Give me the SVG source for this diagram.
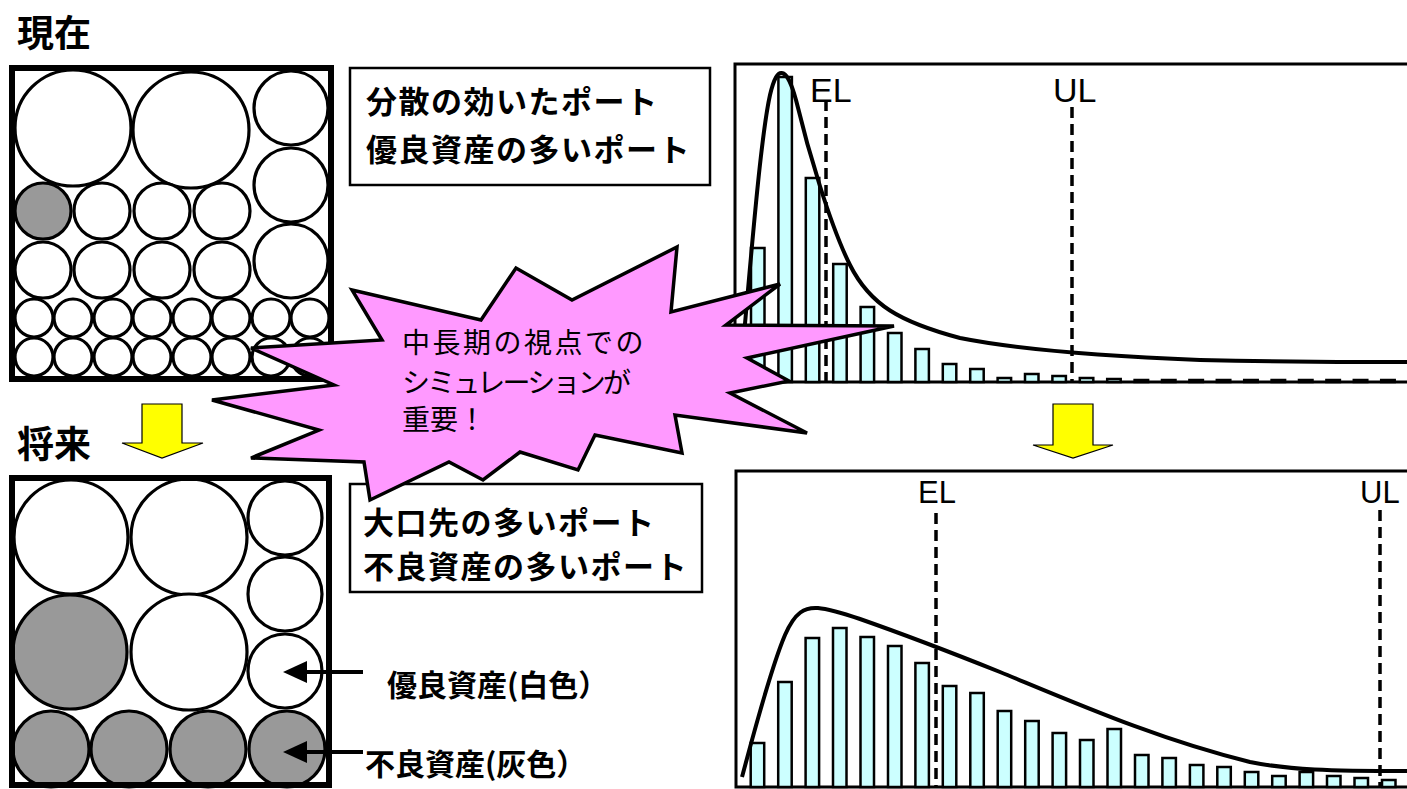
<svg xmlns="http://www.w3.org/2000/svg" width="1407" height="789" viewBox="0 0 1407 789">
<style>
.c{fill:#fff;stroke:#000;stroke-width:3.2}
.g{fill:#999;stroke:#000;stroke-width:3.2}
.frame{fill:none;stroke:#000;stroke-width:6}
.hbox{fill:#fff;stroke:#000;stroke-width:3}
.bar{fill:#ccffff;stroke:#000;stroke-width:2.5}
.dash{stroke:#000;stroke-width:3.5;stroke-dasharray:11 6;fill:none}
.curve{fill:none;stroke:#000;stroke-width:4}
.tbox{fill:#fff;stroke:#000;stroke-width:2.5}
.jp{font-family:"Noto Sans CJK JP","Noto Sans CJK SC",sans-serif;fill:#000}
.b{font-weight:bold}
.lat{font-family:"Liberation Sans",Arial,sans-serif;fill:#000}
.yarrow{fill:#ffff00;stroke:#000;stroke-width:1.2}
.ptr{stroke:#000;stroke-width:4}
</style>

<g id="title-now"><text class="jp b" x="17" y="47" font-size="37">現在</text></g>
<g id="title-future"><text class="jp b" x="17" y="458" font-size="37">将来</text></g>

<g id="portfolio-now">
<circle class="c" cx="73" cy="128" r="58"/>
<circle class="c" cx="191" cy="130" r="58"/>
<circle class="c" cx="291" cy="108" r="37"/>
<circle class="c" cx="291" cy="185" r="37"/>
<circle class="c" cx="291" cy="261" r="37"/>
<circle class="g" cx="43" cy="211" r="28"/>
<circle class="c" cx="102" cy="211" r="28"/>
<circle class="c" cx="162" cy="211" r="28"/>
<circle class="c" cx="222" cy="211" r="28"/>
<circle class="c" cx="43" cy="270" r="28"/>
<circle class="c" cx="102" cy="270" r="28"/>
<circle class="c" cx="162" cy="270" r="28"/>
<circle class="c" cx="222" cy="270" r="28"/>
<circle class="c" cx="34" cy="318" r="19"/>
<circle class="c" cx="73" cy="318" r="19"/>
<circle class="c" cx="113" cy="318" r="19"/>
<circle class="c" cx="152" cy="318" r="19"/>
<circle class="c" cx="192" cy="318" r="19"/>
<circle class="c" cx="231" cy="318" r="19"/>
<circle class="c" cx="271" cy="318" r="19"/>
<circle class="c" cx="310" cy="318" r="19"/>
<circle class="c" cx="34" cy="357" r="19"/>
<circle class="c" cx="73" cy="357" r="19"/>
<circle class="c" cx="113" cy="357" r="19"/>
<circle class="c" cx="152" cy="357" r="19"/>
<circle class="c" cx="192" cy="357" r="19"/>
<circle class="c" cx="231" cy="357" r="19"/>
<circle class="c" cx="271" cy="357" r="19"/>
<circle class="c" cx="310" cy="357" r="19"/>
<rect class="frame" x="12" y="68" width="319" height="311"/>
</g>

<g id="portfolio-future">
<circle class="c" cx="71" cy="537" r="57"/>
<circle class="c" cx="189" cy="537" r="58"/>
<circle class="c" cx="285" cy="518" r="37"/>
<circle class="c" cx="285" cy="594" r="37"/>
<circle class="c" cx="285" cy="671" r="37"/>
<circle class="g" cx="70" cy="652" r="57"/>
<circle class="c" cx="189" cy="652" r="58"/>
<circle class="g" cx="51" cy="749" r="38"/>
<circle class="g" cx="129" cy="749" r="38"/>
<circle class="g" cx="208" cy="749" r="38"/>
<circle class="g" cx="287" cy="749" r="38"/>
<rect class="frame" x="12" y="478" width="317" height="307"/>
</g>

<g id="textbox-now">
<rect class="tbox" x="350" y="68" width="360" height="117"/>
<text class="jp b" x="366" y="113" font-size="31" letter-spacing="1.5">分散の効いたポート</text>
<text class="jp b" x="366" y="161" font-size="31" letter-spacing="1.5">優良資産の多いポート</text>
</g>

<g id="textbox-future">
<rect class="tbox" x="350" y="484" width="352" height="108"/>
<text class="jp b" x="363" y="534" font-size="31" letter-spacing="1.5">大口先の多いポート</text>
<text class="jp b" x="363" y="578" font-size="31" letter-spacing="1.5">不良資産の多いポート</text>
</g>

<g id="hist-now">
<rect class="hbox" x="735" y="64" width="700" height="318"/>
<rect class="bar" x="751" y="248" width="13.5" height="134"/>
<rect class="bar" x="778.4" y="77" width="13.5" height="305"/>
<rect class="bar" x="805.8" y="178" width="13.5" height="204"/>
<rect class="bar" x="833.2" y="264" width="13.5" height="118"/>
<rect class="bar" x="860.6" y="307" width="13.5" height="75"/>
<rect class="bar" x="888" y="333" width="13.5" height="49"/>
<rect class="bar" x="915.4" y="349" width="13.5" height="33"/>
<rect class="bar" x="942.8" y="364" width="13.5" height="18"/>
<rect class="bar" x="970.2" y="369" width="13.5" height="13"/>
<rect class="bar" x="997.6" y="378" width="13.5" height="4"/>
<rect class="bar" x="1025" y="374" width="13.5" height="8"/>
<rect class="bar" x="1052.4" y="376" width="13.5" height="6"/>
<rect class="bar" x="1079.8" y="378" width="13.5" height="4"/>
<rect class="bar" x="1107.2" y="379" width="13.5" height="3"/>
<rect class="bar" x="1134.6" y="380" width="13.5" height="2"/>
<rect class="bar" x="1162" y="380" width="13.5" height="2"/>
<rect class="bar" x="1189.4" y="380" width="13.5" height="2"/>
<rect class="bar" x="1216.8" y="380" width="13.5" height="2"/>
<rect class="bar" x="1244.2" y="380" width="13.5" height="2"/>
<rect class="bar" x="1271.6" y="380" width="13.5" height="2"/>
<rect class="bar" x="1299" y="380" width="13.5" height="2"/>
<rect class="bar" x="1326.4" y="380" width="13.5" height="2"/>
<rect class="bar" x="1353.8" y="380" width="13.5" height="2"/>
<rect class="bar" x="1381.2" y="380" width="13.5" height="2"/>
<line class="dash" x1="826" y1="100" x2="826" y2="382"/>
<line class="dash" x1="1072" y1="107" x2="1072" y2="382"/>
<path class="curve" d="M740 380 C750 270,760 140,770 95 C774 78,778 72,782 73 C787 74,791 82,796 100 C808 150,830 225,850 265 C870 305,900 322,960 338 C1020 350,1100 356,1200 360 C1300 362,1350 362,1407 362"/>
<text class="lat" x="810" y="102" font-size="34">EL</text>
<text class="lat" x="1053" y="102" font-size="34">UL</text>
</g>

<g id="hist-future">
<rect class="hbox" x="736" y="471" width="700" height="316"/>
<rect class="bar" x="750.7" y="743" width="13.5" height="44"/>
<rect class="bar" x="778.2" y="682" width="13.5" height="105"/>
<rect class="bar" x="805.6" y="638" width="13.5" height="149"/>
<rect class="bar" x="833" y="628" width="13.5" height="159"/>
<rect class="bar" x="860.5" y="637" width="13.5" height="150"/>
<rect class="bar" x="888" y="646" width="13.5" height="141"/>
<rect class="bar" x="915.4" y="663" width="13.5" height="124"/>
<rect class="bar" x="942.8" y="686" width="13.5" height="101"/>
<rect class="bar" x="970.3" y="693" width="13.5" height="94"/>
<rect class="bar" x="997.7" y="711" width="13.5" height="76"/>
<rect class="bar" x="1025.2" y="721" width="13.5" height="66"/>
<rect class="bar" x="1052.6" y="733" width="13.5" height="54"/>
<rect class="bar" x="1080" y="740" width="13.5" height="47"/>
<rect class="bar" x="1107.5" y="729" width="13.5" height="58"/>
<rect class="bar" x="1135" y="755" width="13.5" height="32"/>
<rect class="bar" x="1162.4" y="758" width="13.5" height="29"/>
<rect class="bar" x="1189.9" y="765" width="13.5" height="22"/>
<rect class="bar" x="1217.3" y="767" width="13.5" height="20"/>
<rect class="bar" x="1244.8" y="772" width="13.5" height="15"/>
<rect class="bar" x="1272.2" y="776" width="13.5" height="11"/>
<rect class="bar" x="1299.6" y="772" width="13.5" height="15"/>
<rect class="bar" x="1327" y="776" width="13.5" height="11"/>
<rect class="bar" x="1354.5" y="778" width="13.5" height="9"/>
<rect class="bar" x="1382" y="780" width="13.5" height="7"/>
<line class="dash" x1="936" y1="513" x2="936" y2="787"/>
<line class="dash" x1="1380" y1="510" x2="1380" y2="787"/>
<path class="curve" d="M742 777 C752 740,770 670,785 635 C795 612,805 607,818 608 C830 609,845 614,860 619 C900 633,950 652,1000 672 C1080 705,1160 740,1250 762 C1290 770,1330 771,1407 771"/>
<text class="lat" x="918" y="503" font-size="31">EL</text>
<text class="lat" x="1360" y="503" font-size="31">UL</text>
</g>

<g id="arrow-left"><polygon class="yarrow" points="142,404 182,404 182,443 203,443 162,458 122,443 142,443"/></g>
<g id="arrow-right"><polygon class="yarrow" points="1053,404 1093,404 1093,445 1113,445 1073,458 1033,445 1053,445"/></g>

<g id="connectors">
<line class="ptr" x1="363" y1="672" x2="303" y2="672"/>
<polygon points="283,672 307,661 307,683" fill="#000"/>
<line class="ptr" x1="363" y1="752" x2="303" y2="752"/>
<polygon points="283,752 307,741 307,763" fill="#000"/>
</g>

<g id="label-good"><text class="jp b" x="387" y="696" font-size="30">優良資産(白色）</text></g>
<g id="label-bad"><text class="jp b" x="365" y="775" font-size="30">不良資産(灰色）</text></g>

<g id="starburst">
<polygon fill="#ff99ff" stroke="#000" stroke-width="3.5" stroke-linejoin="miter" points="352,290 481,320 516,268 572,300 677,247 671,312 780,284 726,325 894,326 747,358 789,381 730,393 807,433 675,415 682,453 595,435 578,470 520,452 483,480 449,462 370,500 364,462 251,458 319,430 212,400 334,385 251,348 382,340"/>
<text class="jp" x="402" y="353" font-size="28" letter-spacing="2.5">中長期の視点での</text>
<text class="jp" x="402" y="393" font-size="28" textLength="229" lengthAdjust="spacing">シミュレーションが</text>
<text class="jp" x="402" y="430" font-size="28">重要！</text>
</g>
</svg>
